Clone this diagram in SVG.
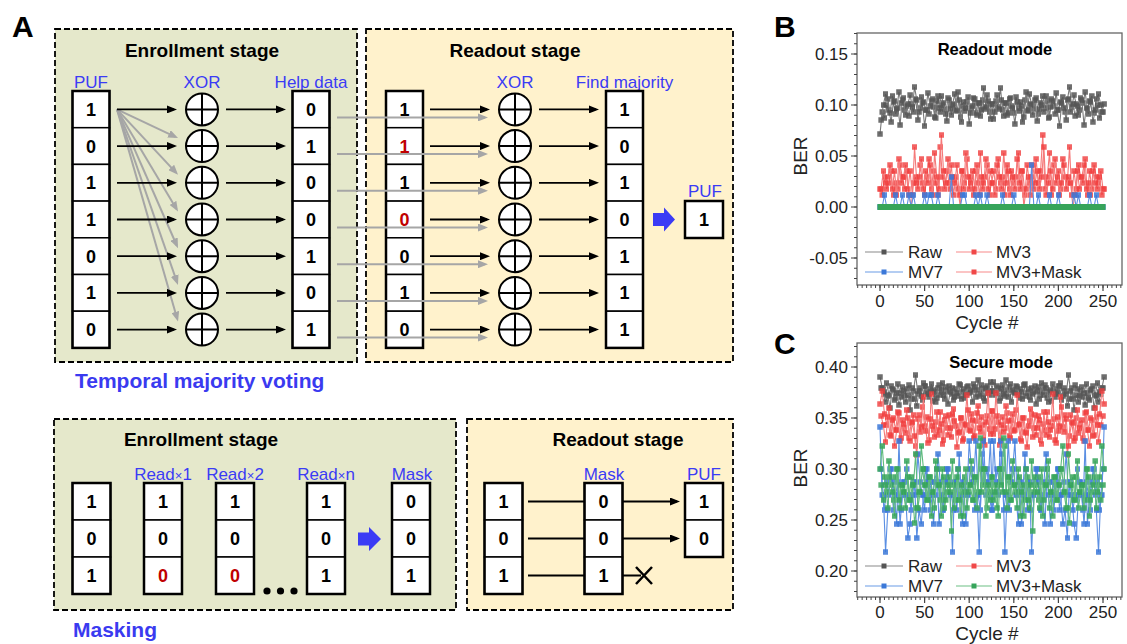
<svg xmlns="http://www.w3.org/2000/svg" width="1127" height="644" viewBox="0 0 1127 644">
<style>
text{font-family:"Liberation Sans",Arial,sans-serif}
.en{fill:#e5e8cb;stroke:#000;stroke-width:1.8;stroke-dasharray:6 3}
.ro{fill:#fff2cc;stroke:#000;stroke-width:1.8;stroke-dasharray:6 3}
.title{font-size:19px;font-weight:bold;text-anchor:middle;fill:#000}
.lbl{font-size:17px;text-anchor:middle;fill:#3b3bf5}
.big{font-size:21px;font-weight:bold;fill:#3a3af0}
.dig{font-size:18px;font-weight:bold;text-anchor:middle;fill:#000}
.red{fill:#c00000}
.cell{fill:#fff;stroke:#000;stroke-width:1.5}
.col{fill:none;stroke:#000;stroke-width:2.5}
.xorc circle{fill:#fff;stroke:#000;stroke-width:2}
.xorc path{stroke:#000;stroke-width:2;fill:none}
.arr{stroke:#000;stroke-width:1.8;fill:none;marker-end:url(#ah)}
.garr{stroke:#a6a6a6;stroke-width:2;fill:none;marker-end:url(#gah)}
.ln{stroke:#000;stroke-width:1.8;fill:none}
.pl{font-size:30px;font-weight:bold;fill:#000}
.tk{font-size:17px;fill:#222}
.tkl{font-size:17px;fill:#222;text-anchor:end}
.tkm{font-size:17px;fill:#222;text-anchor:middle}
.ax{font-size:19px;fill:#222;text-anchor:middle}
.ct{font-size:16.5px;font-weight:bold;text-anchor:middle;fill:#000}
.frame{fill:#fff;stroke:#666;stroke-width:1.3}
.tick{stroke:#444;stroke-width:1.2;fill:none}
.ser{fill:none;stroke-width:0.5}
</style>
<defs>
<marker id="ah" viewBox="0 0 10 8" refX="7" refY="4" markerWidth="10" markerHeight="8" markerUnits="userSpaceOnUse" orient="auto"><path d="M0,0L10,4L0,8z" fill="#000"/></marker>
<marker id="gah" viewBox="0 0 10 8" refX="7" refY="4" markerWidth="10" markerHeight="8" markerUnits="userSpaceOnUse" orient="auto"><path d="M0,0L10,4L0,8z" fill="#a6a6a6"/></marker>
<marker id="mRaw" markerUnits="userSpaceOnUse" markerWidth="2.47" markerHeight="5.5" refX="1.235" refY="2.75"><rect width="2.47" height="5.5" fill="#555" fill-opacity="0.85"/></marker>
<marker id="mMV3" markerUnits="userSpaceOnUse" markerWidth="2.47" markerHeight="5.5" refX="1.235" refY="2.75"><rect width="2.47" height="5.5" fill="#f03c3c" fill-opacity="0.8"/></marker>
<marker id="mMV7" markerUnits="userSpaceOnUse" markerWidth="2.47" markerHeight="5.5" refX="1.235" refY="2.75"><rect width="2.47" height="5.5" fill="#3b78d8" fill-opacity="0.85"/></marker>
<marker id="mMask" markerUnits="userSpaceOnUse" markerWidth="2.47" markerHeight="5.5" refX="1.235" refY="2.75"><rect width="2.47" height="5.5" fill="#36a45a" fill-opacity="0.85"/></marker>
<g id="col7">
<rect class="cell" x="0" y="0" width="37" height="36.7"/>
<rect class="cell" x="0" y="36.7" width="37" height="36.7"/>
<rect class="cell" x="0" y="73.4" width="37" height="36.7"/>
<rect class="cell" x="0" y="110.1" width="37" height="36.7"/>
<rect class="cell" x="0" y="146.8" width="37" height="36.7"/>
<rect class="cell" x="0" y="183.5" width="37" height="36.7"/>
<rect class="cell" x="0" y="220.2" width="37" height="36.7"/>
<rect class="col" x="0" y="0" width="37" height="256.9"/>
</g>
<g id="col3">
<rect class="cell" x="0" y="0" width="38" height="37"/>
<rect class="cell" x="0" y="37" width="38" height="37"/>
<rect class="cell" x="0" y="74" width="38" height="37"/>
<rect class="col" x="0" y="0" width="38" height="111"/>
</g>
<g id="xor" class="xorc"><circle r="16"/><path d="M-16,0H16M0,-16V16"/></g>
</defs>

<rect width="1127" height="644" fill="#fff"/>

<g id="panel-labels">
<text class="pl" x="12" y="37">A</text>
<text class="pl" x="774" y="37" font-size="28">B</text>
<text class="pl" x="774" y="354" font-size="28">C</text>
</g>

<!-- Temporal majority voting -->
<g id="tmv-enroll-stage"><rect class="en" x="55" y="29" width="302" height="333"/><text class="title" x="202" y="57">Enrollment stage</text></g>
<g id="tmv-readout-stage"><rect class="ro" x="366" y="29" width="367" height="333"/><text class="title" x="515" y="57">Readout stage</text></g>
<text id="tmv-label" class="big" x="75" y="388">Temporal majority voting</text>

<g id="tmv-puf">
<text class="lbl" x="91" y="88">PUF</text>
<use href="#col7" x="72.5" y="91"/>
<text class="dig" x="91" y="115.9">1</text><text class="dig" x="91" y="152.6">0</text><text class="dig" x="91" y="189.3">1</text><text class="dig" x="91" y="226">1</text><text class="dig" x="91" y="262.7">0</text><text class="dig" x="91" y="299.4">1</text><text class="dig" x="91" y="336.1">0</text>
</g>
<g id="tmv-xor-enroll">
<text class="lbl" x="202" y="88">XOR</text>
<use href="#xor" x="202" y="109.4"/><use href="#xor" x="202" y="146.1"/><use href="#xor" x="202" y="182.8"/><use href="#xor" x="202" y="219.5"/><use href="#xor" x="202" y="256.2"/><use href="#xor" x="202" y="292.9"/><use href="#xor" x="202" y="329.6"/>
</g>
<g id="tmv-helpdata">
<text class="lbl" x="311" y="88">Help data</text>
<use href="#col7" x="292.5" y="91"/>
<text class="dig" x="311" y="115.9">0</text><text class="dig" x="311" y="152.6">1</text><text class="dig" x="311" y="189.3">0</text><text class="dig" x="311" y="226">0</text><text class="dig" x="311" y="262.7">1</text><text class="dig" x="311" y="299.4">0</text><text class="dig" x="311" y="336.1">1</text>
</g>
<g id="tmv-readout-puf">
<use href="#col7" x="386" y="91"/>
<text class="dig" x="404.5" y="115.9">1</text><text class="dig red" x="404.5" y="152.6">1</text><text class="dig" x="404.5" y="189.3">1</text><text class="dig red" x="404.5" y="226">0</text><text class="dig" x="404.5" y="262.7">0</text><text class="dig" x="404.5" y="299.4">1</text><text class="dig" x="404.5" y="336.1">0</text>
</g>
<g id="tmv-xor-readout">
<text class="lbl" x="515" y="88">XOR</text>
<use href="#xor" x="515" y="109.4"/><use href="#xor" x="515" y="146.1"/><use href="#xor" x="515" y="182.8"/><use href="#xor" x="515" y="219.5"/><use href="#xor" x="515" y="256.2"/><use href="#xor" x="515" y="292.9"/><use href="#xor" x="515" y="329.6"/>
</g>
<g id="tmv-majority">
<text class="lbl" x="624.5" y="88">Find majority</text>
<use href="#col7" x="606" y="91"/>
<text class="dig" x="624.5" y="115.9">1</text><text class="dig" x="624.5" y="152.6">0</text><text class="dig" x="624.5" y="189.3">1</text><text class="dig" x="624.5" y="226">0</text><text class="dig" x="624.5" y="262.7">1</text><text class="dig" x="624.5" y="299.4">1</text><text class="dig" x="624.5" y="336.1">1</text>
</g>
<g id="tmv-result-puf">
<text class="lbl" x="705" y="197">PUF</text>
<rect class="cell" x="685" y="201" width="38" height="37"/><rect class="col" x="685" y="201" width="38" height="37"/>
<text class="dig" x="704" y="226">1</text>
</g>

<!-- Masking -->
<g id="mask-enroll-stage"><rect class="en" x="54" y="419" width="402" height="191"/><text class="title" x="201" y="446">Enrollment stage</text></g>
<g id="mask-readout-stage"><rect class="ro" x="467" y="419" width="266" height="191"/><text class="title" x="618" y="446">Readout stage</text></g>
<text id="mask-label" class="big" x="73" y="637">Masking</text>

<g id="mask-puf"><use href="#col3" x="72.5" y="483"/><text class="dig" x="91.5" y="508">1</text><text class="dig" x="91.5" y="545">0</text><text class="dig" x="91.5" y="582">1</text></g>
<g id="mask-read1"><text class="lbl" x="163" y="480">Read<tspan font-size="13">×</tspan>1</text><use href="#col3" x="144" y="483"/><text class="dig" x="163" y="508">1</text><text class="dig" x="163" y="545">0</text><text class="dig red" x="163" y="582">0</text></g>
<g id="mask-read2"><text class="lbl" x="235" y="480">Read<tspan font-size="13">×</tspan>2</text><use href="#col3" x="216" y="483"/><text class="dig" x="235" y="508">1</text><text class="dig" x="235" y="545">0</text><text class="dig red" x="235" y="582">0</text></g>
<g id="mask-dots"><circle cx="267" cy="591" r="3.6"/><circle cx="280.5" cy="591" r="3.6"/><circle cx="294" cy="591" r="3.6"/></g>
<g id="mask-readn"><text class="lbl" x="326" y="480">Read<tspan font-size="13">×</tspan>n</text><use href="#col3" x="307" y="483"/><text class="dig" x="326" y="508">1</text><text class="dig" x="326" y="545">0</text><text class="dig" x="326" y="582">1</text></g>
<g id="mask-mask"><text class="lbl" x="412" y="480">Mask</text><use href="#col3" x="392" y="483"/><text class="dig" x="411" y="508">0</text><text class="dig" x="411" y="545">0</text><text class="dig" x="411" y="582">1</text></g>
<g id="mask-ro-puf"><use href="#col3" x="484.5" y="483"/><text class="dig" x="503.5" y="508">1</text><text class="dig" x="503.5" y="545">0</text><text class="dig" x="503.5" y="582">1</text></g>
<g id="mask-ro-mask"><text class="lbl" x="604" y="480">Mask</text><use href="#col3" x="584.5" y="483"/><text class="dig" x="603.5" y="508">0</text><text class="dig" x="603.5" y="545">0</text><text class="dig" x="603.5" y="582">1</text></g>
<g id="mask-ro-result"><text class="lbl" x="704" y="480">PUF</text>
<rect class="cell" x="685" y="483" width="38" height="37"/><rect class="cell" x="685" y="520" width="38" height="37"/><rect class="col" x="685" y="483" width="38" height="74"/>
<text class="dig" x="704" y="508">1</text><text class="dig" x="704" y="545">0</text></g>

<g id="connectors">
<path class="garr" d="M117,109.4L175.3,136.8"/>
<path class="garr" d="M117,109.4L176,172.6"/>
<path class="garr" d="M117,109.4L176.5,208.9"/>
<path class="garr" d="M117,109.4L176.8,245.5"/>
<path class="garr" d="M117,109.4L177,282.1"/>
<path class="garr" d="M117,109.4L177.2,318.7"/>
<path class="arr" d="M117,109.4H174"/><path class="arr" d="M117,146.1H174"/><path class="arr" d="M117,182.8H174"/><path class="arr" d="M117,219.5H174"/><path class="arr" d="M117,256.2H174"/><path class="arr" d="M117,292.9H174"/><path class="arr" d="M117,329.6H174"/>
<path class="arr" d="M226,109.4H283"/><path class="arr" d="M226,146.1H283"/><path class="arr" d="M226,182.8H283"/><path class="arr" d="M226,219.5H283"/><path class="arr" d="M226,256.2H283"/><path class="arr" d="M226,292.9H283"/><path class="arr" d="M226,329.6H283"/>
<path class="arr" d="M430,109.4H487"/><path class="arr" d="M430,146.1H487"/><path class="arr" d="M430,182.8H487"/><path class="arr" d="M430,219.5H487"/><path class="arr" d="M430,256.2H487"/><path class="arr" d="M430,292.9H487"/><path class="arr" d="M430,329.6H487"/>
<path class="garr" d="M337,117.4H485"/><path class="garr" d="M337,154.1H485"/><path class="garr" d="M337,190.8H485"/><path class="garr" d="M337,227.5H485"/><path class="garr" d="M337,264.2H485"/><path class="garr" d="M337,300.9H485"/><path class="garr" d="M337,337.6H485"/>
<path class="arr" d="M539,109.4H596"/><path class="arr" d="M539,146.1H596"/><path class="arr" d="M539,182.8H596"/><path class="arr" d="M539,219.5H596"/><path class="arr" d="M539,256.2H596"/><path class="arr" d="M539,292.9H596"/><path class="arr" d="M539,329.6H596"/>
<path d="M653,213H664V207.5L675,219.5L664,231.5V226H653Z" fill="#3b3bf5"/>
<path d="M358,532.5H369V527L381,539L369,551V545.5H358Z" fill="#3b3bf5"/>
<path class="ln" d="M528,501.5H585M528,538.5H585M528,575.5H585M622,575.5H641"/>
<path class="arr" d="M622,501.5H677"/><path class="arr" d="M622,538.5H677"/>
<path d="M636,567L652,584M652,567L636,584" stroke="#000" stroke-width="2.5" fill="none"/>
</g>

<!-- Chart B -->
<g id="chart-b">
<rect class="frame" x="857" y="33" width="265" height="252"/>
<path class="tick" d="M851,54H857M851,105H857M851,156H857M851,207H857M851,258H857M880,285V291M924.6,285V291M969.2,285V291M1013.8,285V291M1058.4,285V291M1103,285V291"/>
<line x1="855.5" y1="33" x2="855.5" y2="285" stroke="#444" stroke-width="3" stroke-dasharray="1 9.2" stroke-dashoffset="10.1"/>
<line x1="857" y1="286.5" x2="1122" y2="286.5" stroke="#444" stroke-width="3" stroke-dasharray="1 3.46" stroke-dashoffset="4.26"/>
<text class="tkl" x="848" y="60">0.15</text><text class="tkl" x="848" y="111">0.10</text><text class="tkl" x="848" y="162">0.05</text><text class="tkl" x="848" y="213">0.00</text><text class="tkl" x="848" y="264">-0.05</text>
<text class="tkm" x="880" y="307">0</text><text class="tkm" x="924.6" y="307">50</text><text class="tkm" x="969.2" y="307">100</text><text class="tkm" x="1013.8" y="307">150</text><text class="tkm" x="1058.4" y="307">200</text><text class="tkm" x="1103" y="307">250</text>
<text class="ax" x="987" y="329">Cycle #</text>
<text class="ax" transform="translate(807,156) rotate(-90)">BER</text>
<text class="ct" x="995" y="55">Readout mode</text>
<g transform="translate(880,0) scale(2.23,1)">
<polyline class="ser" stroke="#7a7a7a" marker-start="url(#mRaw)" marker-mid="url(#mRaw)" marker-end="url(#mRaw)" points="0,134 1,112 2,118 3,105 4,110 5,122 6,102 7,114 8,108 9,125 10,100 11,110 12,106 13,116 14,104 15,112 16,99 17,120 18,108 19,103 20,126 21,110 22,114 23,101 24,107 25,118 26,96 27,112 28,105 29,109 30,121 31,100 32,115 33,104 34,110 35,92 36,117 37,106 38,111 39,102 40,124 41,108 42,98 43,113 44,103 45,116 46,100 47,109 48,95 49,112 50,104 51,119 52,101 53,107 54,88 55,110 56,103 57,115 58,99 59,106 60,113 61,97 62,108 63,102 64,122 65,100 66,111 67,94 68,105 69,109 70,98 71,114 72,103 73,96 74,108 75,101 76,117 77,99 78,106 79,93 80,110 81,102 82,97 83,112 84,100 85,87 86,107 87,95 88,104 89,115 90,98 91,103 92,92 93,109 94,101 95,96 96,113 97,99 98,94 99,105 100,112"/>
<polyline class="ser" transform="translate(100.5,0) scale(-1,1)" stroke="#7a7a7a" marker-start="url(#mRaw)" marker-mid="url(#mRaw)" marker-end="url(#mRaw)" points="0,104 1,112 2,118 3,105 4,110 5,122 6,102 7,114 8,108 9,125 10,100 11,110 12,106 13,116 14,104 15,112 16,99 17,120 18,108 19,103 20,126 21,110 22,114 23,101 24,107 25,118 26,96 27,112 28,105 29,109 30,121 31,100 32,115 33,104 34,110 35,92 36,117 37,106 38,111 39,102 40,124 41,108 42,98 43,113 44,103 45,116 46,100 47,109 48,95 49,112 50,104 51,119 52,101 53,107 54,88 55,110 56,103 57,115 58,99 59,106 60,113 61,97 62,108 63,102 64,122 65,100 66,111 67,94 68,105 69,109 70,98 71,114 72,103 73,96 74,108 75,101 76,117 77,99 78,106 79,93 80,110 81,102 82,97 83,112 84,100 85,87 86,107 87,95 88,104 89,115 90,98 91,103 92,92 93,109 94,101 95,96 96,113 97,99 98,94 99,105 100,120"/>
<polyline id="bMV3" class="ser" stroke="#f57a7a" marker-start="url(#mMV3)" marker-mid="url(#mMV3)" marker-end="url(#mMV3)" points="0,189 1,195 2,177 3,189 4,183 5,171 6,195 7,183 8,189 9,165 10,177 11,189 12,171 13,195 14,207 15,183 16,177 17,189 18,165 19,183 20,195 21,177 22,159 23,189 24,171 25,183 26,195 27,147 28,177 29,189 30,171 31,183 32,165 33,195 34,177 35,189 36,207 37,171 38,183 39,159 40,189 41,177 42,195 43,171 44,183 45,153 46,189 47,177 48,165 49,195 50,183 51,171 52,189 53,159 54,183 55,177 56,195 57,165 58,189 59,171 60,183 61,177 62,153 63,189 64,171 65,195 66,165 67,183 68,177 69,189 70,159 71,183 72,171 73,135 74,189 75,177 76,153 77,195 78,165 79,183 80,171 81,189 82,159 83,177 84,183 85,147 86,195 87,171 88,189 89,165 90,177 91,183 92,159 93,195 94,171 95,189 96,165 97,177 98,183 99,171 100,189"/>
<use href="#bMV3" transform="translate(100.5,0) scale(-1,1)"/>
<polyline id="bMV7" class="ser" stroke="#5b8fe3" marker-start="url(#mMV7)" marker-mid="url(#mMV7)" marker-end="url(#mMV7)" points="0,207 1,207 2,195 3,207 4,207 5,207 6,207 7,195 8,207 9,207 10,195 11,207 12,207 13,195 14,207 15,195 16,207 17,207 18,207 19,207 20,195 21,207 22,195 23,195 24,207 25,207 26,195 27,207 28,207 29,207 30,207 31,207 32,177 33,207 34,207 35,207 36,207 37,195 38,195 39,207 40,207 41,207 42,207 43,195 44,207 45,195 46,207 47,207 48,195 49,207 50,207 51,207 52,207 53,207 54,207 55,195 56,207 57,207 58,207 59,207 60,195 61,207 62,207 63,207 64,207 65,207 66,207 67,207 68,165 69,207 70,207 71,195 72,207 73,207 74,207 75,207 76,195 77,207 78,207 79,207 80,195 81,207 82,207 83,207 84,207 85,207 86,207 87,195 88,207 89,195 90,207 91,207 92,207 93,207 94,195 95,207 96,207 97,195 98,207 99,207 100,207"/>
</g>
<rect x="877.5" y="204" width="228" height="6" fill="#36a45a"/>
<g id="legend-b">
<path d="M865,252H903" stroke="#8a8a8a" stroke-width="1.2"/><rect x="881.5" y="249.5" width="5" height="5" fill="#555"/><text class="tk" x="908" y="258">Raw</text>
<path d="M956,252H992" stroke="#f78a8a" stroke-width="1.2"/><rect x="971.5" y="249.5" width="5" height="5" fill="#f04848"/><text class="tk" x="996" y="258">MV3</text>
<path d="M865,272H903" stroke="#6a9be6" stroke-width="1.2"/><rect x="881.5" y="269.5" width="5" height="5" fill="#3b78d8"/><text class="tk" x="908" y="278">MV7</text>
<path d="M956,272H992" stroke="#f78a8a" stroke-width="1.2"/><rect x="971.5" y="269.5" width="5" height="5" fill="#f04848"/><text class="tk" x="996" y="278">MV3+Mask</text>
</g>
</g>

<!-- Chart C -->
<g id="chart-c">
<rect class="frame" x="857" y="343" width="265" height="254"/>
<path class="tick" d="M851,367H857M851,418H857M851,469H857M851,520H857M851,571H857M880,597V603M924.6,597V603M969.2,597V603M1013.8,597V603M1058.4,597V603M1103,597V603"/>
<line x1="855.5" y1="343" x2="855.5" y2="597" stroke="#444" stroke-width="3" stroke-dasharray="1 9.2" stroke-dashoffset="7.1"/>
<line x1="857" y1="598.5" x2="1122" y2="598.5" stroke="#444" stroke-width="3" stroke-dasharray="1 3.46" stroke-dashoffset="4.26"/>
<text class="tkl" x="848" y="373">0.40</text><text class="tkl" x="848" y="424">0.35</text><text class="tkl" x="848" y="475">0.30</text><text class="tkl" x="848" y="526">0.25</text><text class="tkl" x="848" y="577">0.20</text>
<text class="tkm" x="880" y="618">0</text><text class="tkm" x="924.6" y="618">50</text><text class="tkm" x="969.2" y="618">100</text><text class="tkm" x="1013.8" y="618">150</text><text class="tkm" x="1058.4" y="618">200</text><text class="tkm" x="1103" y="618">250</text>
<text class="ax" x="987" y="640">Cycle #</text>
<text class="ax" transform="translate(807,468) rotate(-90)">BER</text>
<text class="ct" x="1001" y="368">Secure mode</text>
<g transform="translate(880,0) scale(2.23,1)">
<polyline id="cRaw" class="ser" stroke="#7a7a7a" marker-start="url(#mRaw)" marker-mid="url(#mRaw)" marker-end="url(#mRaw)" points="0,377 1,388 2,392 3,383 4,395 5,386 6,390 7,398 8,384 9,393 10,387 11,396 12,389 13,385 14,399 15,391 16,375 17,394 18,388 19,400 20,386 21,392 22,397 23,384 24,390 25,402 26,388 27,395 28,383 29,399 30,391 31,386 32,394 33,400 34,389 35,396 36,385 37,392 38,398 39,387 40,393 41,390 42,384 43,397 44,380 45,394 46,389 47,401 48,386 49,395 50,391 51,382 52,393 53,388 54,398 55,385 56,396 57,390 58,387 59,402 60,392 61,386 62,395 63,389 64,399 65,384 66,393 67,397 68,388 69,392 70,404 71,387 72,395 73,390 74,385 75,398 76,392 77,401 78,389 79,394 80,386 81,383 82,396 83,391 84,406 85,399 86,388 87,410 88,395 89,402 90,391 91,397 92,405 93,393 94,400 95,389 96,408 97,396 98,402 99,394 100,388"/>
<use href="#cRaw" transform="translate(100.5,0) scale(-1,1)"/>
<polyline id="cMV3" class="ser" stroke="#f57a7a" marker-start="url(#mMV3)" marker-mid="url(#mMV3)" marker-end="url(#mMV3)" points="0,404 1,391 2,414 3,425 4,408 5,436 6,418 7,430 8,412 9,441 10,420 11,428 12,410 13,438 14,423 15,415 16,446 17,419 18,432 19,407 20,426 21,417 22,440 23,394 24,430 25,422 26,435 27,412 28,444 29,420 30,428 31,415 32,437 33,409 34,426 35,433 36,418 37,441 38,424 39,395 40,430 41,414 42,438 43,421 44,406 45,432 46,425 47,445 48,416 49,429 50,411 51,434 52,393 53,422 54,440 55,417 56,428 57,413 58,436 59,420 60,431 61,410 62,425 63,439 64,418 65,432 66,447 67,421 68,414 69,428 70,435 71,416 72,440 73,424 74,430 75,412 76,437 77,426 78,419 79,443 80,431 81,397 82,427 83,415 84,455 85,436 86,422 87,441 88,418 89,433 90,424 91,438 92,413 93,430 94,446 95,420 96,435 97,417 98,442 99,425 100,416"/>
<use href="#cMV3" transform="translate(100.5,0) scale(-1,1)"/>
<polyline id="cMV7" class="ser" stroke="#5b8fe3" marker-start="url(#mMV7)" marker-mid="url(#mMV7)" marker-end="url(#mMV7)" points="0,427 1,495 2,510 3,482 4,495 5,469 6,510 7,495 8,482 9,524 10,495 11,482 12,469 13,495 14,510 15,482 16,495 17,454 18,482 19,495 20,510 21,469 22,495 23,482 24,524 25,495 26,454 27,482 28,510 29,495 30,469 31,482 32,495 33,510 34,482 35,469 36,495 37,524 38,482 39,495 40,441 41,469 42,482 43,441 44,495 45,510 46,454 47,482 48,469 49,495 50,510 51,441 52,482 53,495 54,441 55,469 56,552 57,495 58,510 59,482 60,469 61,495 62,524 63,482 64,495 65,454 66,510 67,482 68,552 69,495 70,469 71,482 72,510 73,495 74,524 75,469 76,482 77,495 78,510 79,482 80,469 81,495 82,524 83,510 84,538 85,482 86,495 87,524 88,538 89,495 90,482 91,510 92,441 93,524 94,495 95,482 96,469 97,510 98,552 99,495 100,469"/>
<use href="#cMV7" transform="translate(100.5,0) scale(-1,1)"/>
<polyline id="cMask" class="ser" stroke="#5fbb7d" marker-start="url(#mMask)" marker-mid="url(#mMask)" marker-end="url(#mMask)" points="0,469 1,446 2,477 3,492 4,461 5,485 6,500 7,477 8,469 9,508 10,485 11,492 12,461 13,500 14,477 15,485 16,454 17,508 18,492 19,469 20,485 21,500 22,477 23,516 24,492 25,461 26,485 27,500 28,469 29,508 30,492 31,477 32,531 33,485 34,500 35,469 36,516 37,492 38,477 39,508 40,485 41,461 42,500 43,477 44,492 45,438 46,485 47,469 48,508 49,492 50,477 51,500 52,485 53,516 54,469 55,492 56,446 57,508 58,477 59,500 60,485 61,492 62,469 63,516 64,485 65,500 66,477 67,508 68,461 69,492 70,485 71,500 72,477 73,516 74,485 75,469 76,508 77,492 78,477 79,500 80,485 81,469 82,446 83,492 84,508 85,523 86,485 87,500 88,477 89,508 90,492 91,485 92,500 93,469 94,516 95,492 96,477 97,508 98,485 99,500 100,485"/>
<use href="#cMask" transform="translate(100.5,0) scale(-1,1)"/>
</g>
<g id="legend-c">
<path d="M865,566H903" stroke="#8a8a8a" stroke-width="1.2"/><rect x="881.5" y="563.5" width="5" height="5" fill="#555"/><text class="tk" x="908" y="572">Raw</text>
<path d="M956,566H992" stroke="#f78a8a" stroke-width="1.2"/><rect x="971.5" y="563.5" width="5" height="5" fill="#f04848"/><text class="tk" x="996" y="572">MV3</text>
<path d="M865,586H903" stroke="#6a9be6" stroke-width="1.2"/><rect x="881.5" y="583.5" width="5" height="5" fill="#3b78d8"/><text class="tk" x="908" y="592">MV7</text>
<path d="M956,586H992" stroke="#6cc084" stroke-width="1.2"/><rect x="971.5" y="583.5" width="5" height="5" fill="#36a45a"/><text class="tk" x="996" y="592">MV3+Mask</text>
</g>
</g>
</svg>
